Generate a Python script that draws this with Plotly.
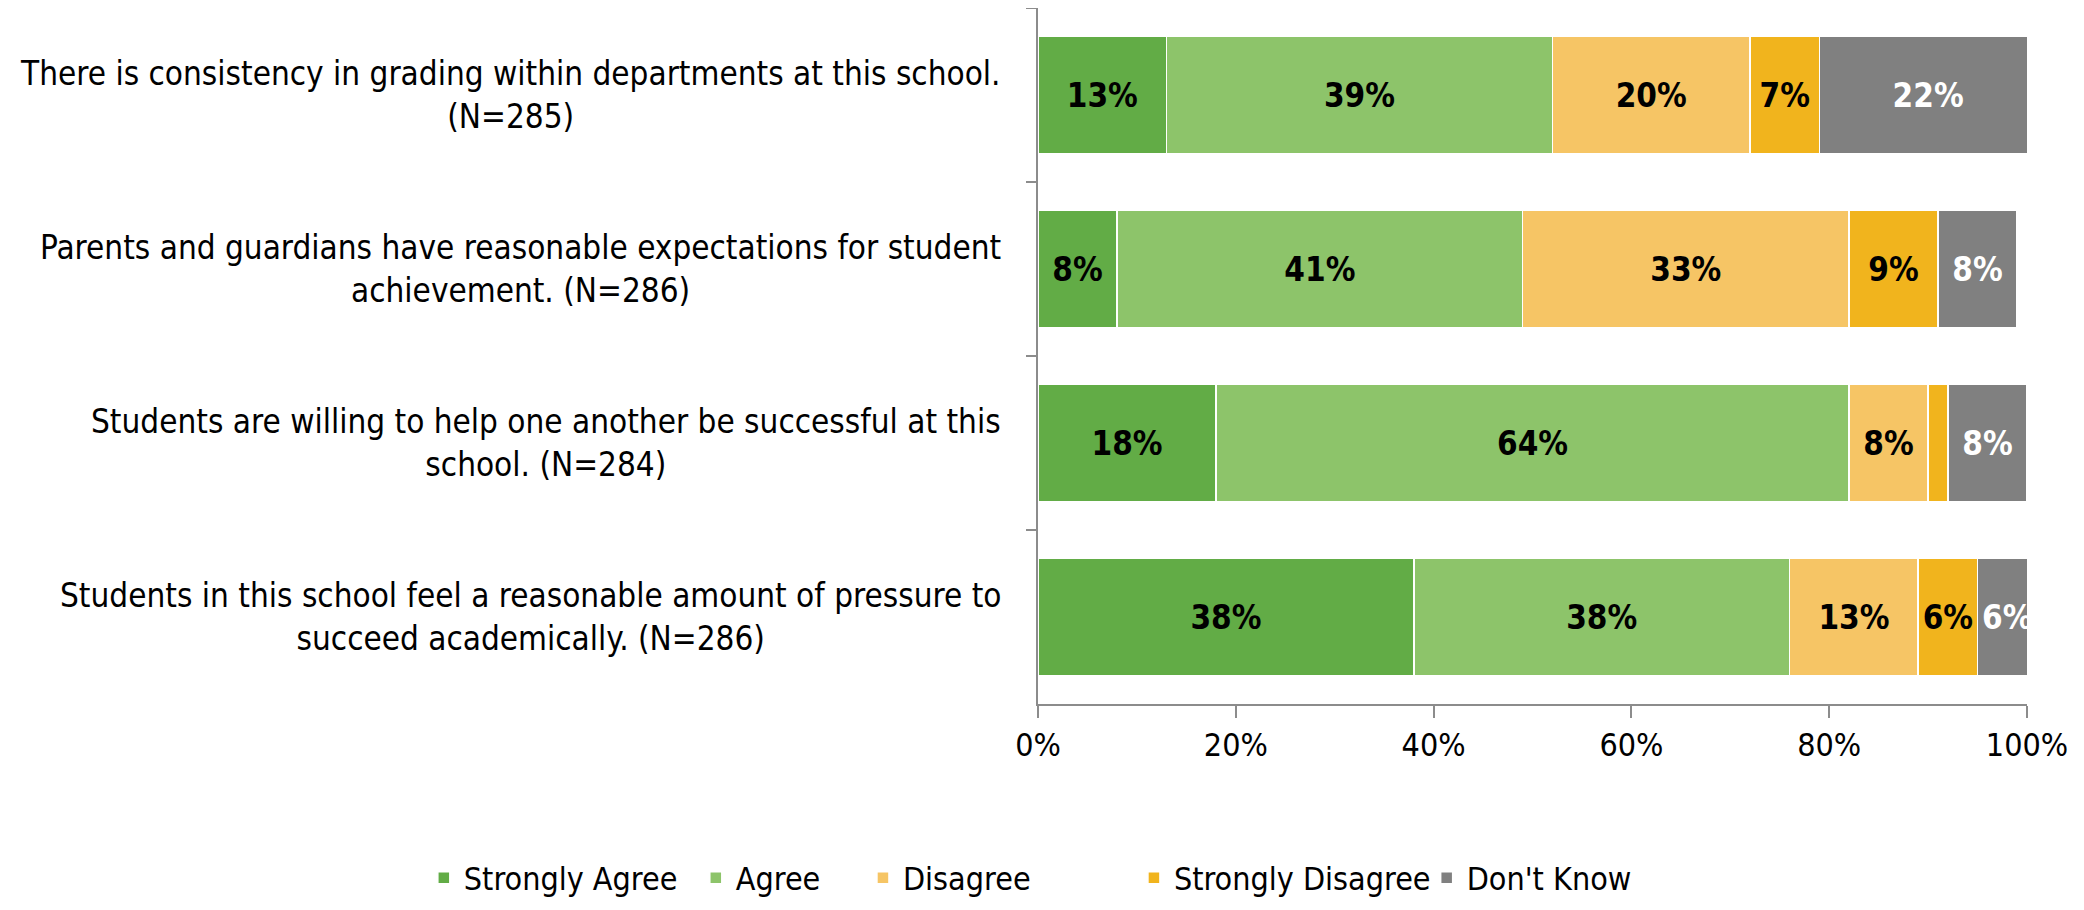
import plotly.graph_objects as go

categories = [
    "There is consistency in grading within departments at this school.<br>(N=285)",
    "Parents and guardians have reasonable expectations for student<br>achievement. (N=286)",
    "Students are willing to help one another be successful at this<br>school. (N=284)",
    "Students in this school feel a reasonable amount of pressure to<br>succeed academically. (N=286)",
]
cat_keys = ["Q1", "Q2", "Q3", "Q4"]

series_names = ["Strongly Agree", "Agree", "Disagree", "Strongly Disagree", "Don't Know"]
strongly_agree = [13, 8, 18, 38]
agree = [39, 41, 64, 38]
disagree = [20, 33, 8, 13]
strongly_disagree = [7, 9, 2, 6]
dont_know = [22, 8, 8, 6]
series_values = [strongly_agree, agree, disagree, strongly_disagree, dont_know]

colors = ["#62AC46", "#8DC46A", "#F6C565", "#F1B41D", "#808080"]
text_colors = ["black", "black", "black", "black", "white"]

# legend entry positions (paper x) so entries are spaced like the original
legend_x = [-0.621, -0.346, -0.177, 0.097, 0.393]
legend_ids = ["legend", "legend2", "legend3", "legend4", "legend5"]

FONT = "Liberation Sans Narrow, DejaVu Sans Condensed, Arial Narrow, sans-serif"

fig = go.Figure()
for name, vals, col, tcol, lid in zip(series_names, series_values, colors, text_colors, legend_ids):
    fig.add_trace(go.Bar(
        name=name,
        y=cat_keys,
        x=[v / 100 for v in vals],
        orientation="h",
        marker=dict(color=col, line=dict(color="white", width=1.5)),
        text=[f"{v}%" if v >= 3 else "" for v in vals],
        textposition="inside",
        insidetextanchor="middle",
        textangle=0,
        constraintext="none",
        textfont=dict(family=FONT, size=33, color=tcol, weight="bold"),
        hoverinfo="skip",
        legend=lid,
        showlegend=True,
    ))

for key, label in zip(cat_keys, categories):
    fig.add_annotation(
        x=0, xref="paper", y=key, yref="y",
        text=label, showarrow=False,
        xanchor="right", align="center", xshift=-35,
        font=dict(family=FONT, size=33, color="black"),
    )

legend_layout = {}
for lid, lx in zip(legend_ids, legend_x):
    legend_layout[lid] = dict(
        orientation="h",
        x=lx, xanchor="left", y=-0.25, yanchor="middle",
        font=dict(family=FONT, size=32, color="black"),
        bgcolor="rgba(0,0,0,0)",
    )

fig.update_layout(
    barmode="stack",
    bargap=0.33,
    width=2068, height=894,
    margin=dict(l=1030, r=49, t=0, b=198, autoexpand=False),
    plot_bgcolor="white", paper_bgcolor="white",
    font=dict(family=FONT, size=33, color="black"),
    showlegend=True,
    xaxis=dict(
        range=[0, 1], tickvals=[0, 0.2, 0.4, 0.6, 0.8, 1.0],
        ticktext=["0%", "20%", "40%", "60%", "80%", "100%"],
        showgrid=False, zeroline=False,
        showline=True, linecolor="#8C8C8C", linewidth=2,
        ticks="outside", ticklen=12, tickcolor="#8C8C8C", tickwidth=2,
        tickfont=dict(family=FONT, size=32, color="black"),
    ),
    yaxis=dict(
        autorange="reversed",
        showticklabels=False, showgrid=False, zeroline=False,
        showline=True, linecolor="#8C8C8C", linewidth=2,
        ticks="outside", ticklen=10, tickcolor="#8C8C8C", tickwidth=2,
        tickson="boundaries",
    ),
    **legend_layout,
)

fig.write_html("out.html")
